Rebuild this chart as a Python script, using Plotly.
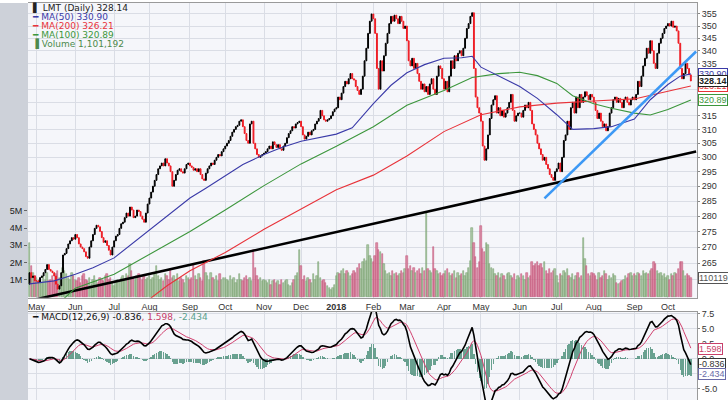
import numpy as np
import pandas as pd
import plotly.graph_objects as go

holidays = ["2017-05-29", "2017-07-04", "2017-09-04", "2017-11-23", "2017-12-25",
            "2018-01-01", "2018-01-15", "2018-02-19", "2018-03-30", "2018-05-28",
            "2018-07-04", "2018-09-03"]
days = pd.bdate_range("2017-04-25", "2018-10-23")
days = days[~days.isin(pd.to_datetime(holidays))]

# daily closes (dividend adjusted, as drawn)
close = [
    262, 260.5, 261, 259.5,  # Apr 17
    259.5, 259, 260.5, 261, 262, 263, 264.5, 263, 262.5, 262, 261, 258.5, 257, 258, 262,
    267.5, 268, 269.5, 271, 272, 273, 272.5,  # May
    274, 273, 271, 270, 269.5, 268.5, 267, 266.5, 270, 272, 274, 276, 277, 276.5, 275,
    273, 271.5, 272, 270.5, 269, 267.5, 270,  # Jun
    272, 273.5, 274, 276, 277.5, 278, 279.5, 281, 280, 283, 282, 279.5, 280, 282, 281.5,
    280, 279, 278, 281, 284,  # Jul
    286, 288, 290, 292, 294, 296, 297, 298, 297, 299.5, 298, 297, 295, 290, 292, 294,
    295.5, 296, 295, 294.5, 296, 297.5, 298,  # Aug
    297, 296.5, 295.5, 296, 295, 296, 294, 292.5, 292, 294.5, 296, 297, 298, 297.5, 299,
    300, 301, 300.5, 302, 303,  # Sep
    304, 305, 306, 307.5, 309, 310, 311, 311.5, 313, 313.5, 311, 308.5, 306, 305, 312,
    313, 305, 303, 301, 300, 300.5, 301,  # Oct
    301.5, 302, 303, 304, 303, 305.5, 304.5, 303.5, 304.5, 303, 302.5, 304, 305, 307,
    308.5, 309.5, 311, 310.5, 312, 312.5, 313,  # Nov
    311, 308, 306.5, 307.5, 309, 308, 309.5, 310, 312, 313, 314, 317, 315, 313.5, 313,
    313.5, 314, 315, 316.5, 317.5,  # Dec
    318, 322, 321, 323.5, 326, 328, 327, 329, 331, 329, 328.5, 326, 324.5, 323, 325, 330,
    336, 341, 347, 352, 355,  # Jan 18
    353, 347, 333, 325, 336, 332, 338, 343, 347, 351, 354, 352, 354.5, 353, 351, 354, 352,
    349, 350,  # Feb
    344, 336, 334, 337, 333, 335, 331, 328, 325, 327, 324, 326, 323, 327, 329, 325, 323,
    330, 334, 333, 329,  # Mar
    325, 328, 324, 330, 336, 333, 338, 336, 339, 340, 338, 341, 345, 349, 351, 354, 355.5,
    333, 322, 318, 316,  # Apr
    313, 304, 299, 303, 308, 314, 319, 321, 322.5, 316, 318, 315, 317, 314.5, 316, 318,
    320, 323, 317, 313, 315, 316,  # May
    316, 314.5, 317, 319, 318, 320, 317, 312, 310, 308, 305, 303, 301, 299, 300, 297.5,
    296, 294, 293, 292, 295,  # Jun
    296, 298, 295, 300, 306, 308, 313, 310, 318, 320, 316, 322, 318, 323, 320, 322, 324,
    322.5, 321, 323, 322,  # Jul
    320, 317, 314, 316, 313, 311, 312, 309.5, 311, 316, 318, 321, 322, 320, 321.5, 320,
    318, 321, 322, 320, 319, 321, 322,  # Aug
    321, 323, 328, 326, 330, 334, 337, 341, 339, 344, 340, 335, 333, 339, 343, 345, 347,
    349, 350,  # Sep
    351, 350, 352, 349.5, 350, 348, 343, 333, 329, 331, 335, 333, 330.5, 328.14,  # Oct
]

# daily volume, millions of shares
volume = [
    3.1, 1.8, 1.4, 1.2,
    1.1, 0.9, 1.0, 0.8, 1.2, 1.0, 1.4, 0.9, 1.0, 1.2, 0.9, 1.3, 1.5, 1.1, 1.0, 1.7, 1.5,
    1.3, 1.1, 1.0, 1.4, 1.2,
    1.0, 0.9, 1.1, 0.8, 1.2, 1.3, 1.0, 0.9, 1.1, 0.7, 1.0, 1.2, 0.9, 0.8, 1.1, 1.0, 0.9,
    1.2, 1.3, 1.0, 1.1, 0.8,
    0.6, 0.9, 1.0, 0.9, 1.1, 1.2, 1.0, 1.3, 1.2, 1.9, 1.5, 1.1, 1.0, 1.2, 1.3, 1.1, 1.0,
    1.2, 1.0, 1.1,
    1.2, 1.0, 1.1, 1.3, 1.8, 1.2, 1.0, 1.1, 0.9, 1.3, 1.2, 1.0, 1.6, 1.1, 1.2, 1.0, 1.3,
    0.9, 1.1, 1.0, 0.8, 1.2, 1.1,
    1.0, 1.1, 1.9, 1.2, 1.0, 1.3, 1.1, 0.9, 2.1, 1.4, 1.2, 1.0, 1.4, 1.1, 1.0, 1.2, 0.9,
    1.3, 1.0, 1.1,
    1.1, 1.0, 0.9, 1.2, 1.0, 1.1, 0.8, 1.0, 1.3, 1.0, 0.9, 1.1, 1.2, 1.0, 1.1, 0.9, 2.7,
    1.7, 1.2, 1.0, 1.1, 0.9,
    1.0, 0.9, 0.8, 1.0, 0.7, 0.9, 1.0, 0.8, 0.9, 0.7, 1.0, 0.8, 0.9, 1.0, 0.7, 0.6, 0.8,
    1.0, 1.2, 1.4, 2.7,
    1.8, 1.0, 1.2, 0.9, 1.1, 1.0, 0.8, 1.3, 1.0, 1.2, 2.0, 1.1, 0.9, 1.0, 0.8, 0.6, 0.5,
    0.4, 0.5, 0.7,
    1.2, 1.4, 1.3, 1.5, 1.6, 1.3, 1.5, 1.4, 1.2, 1.3, 1.5, 1.4, 1.7, 1.9, 1.6, 2.0, 2.2,
    2.1, 3.0, 2.4, 2.2,
    2.0, 2.4, 3.1, 2.7, 2.6, 2.5, 1.9, 1.5, 1.3, 1.4, 1.2, 1.5, 1.3, 1.4, 1.2, 1.3, 1.5,
    1.4, 1.6,
    2.4, 1.6, 1.8, 1.5, 1.7, 1.4, 1.5, 1.6, 1.3, 1.7, 1.5, 4.9, 1.6, 1.5, 1.4, 2.9, 1.6,
    1.5, 1.3, 1.4, 1.2,
    1.3, 1.5, 1.6, 1.4, 1.2, 1.3, 1.5, 1.1, 1.4, 1.2, 1.3, 1.5, 1.2, 1.4, 1.7, 2.1, 4.0,
    3.1, 2.3, 1.7, 2.0,
    4.1, 2.8, 2.6, 3.1, 3.0, 1.9, 1.7, 1.6, 1.3, 1.2, 1.4, 1.1, 1.3, 1.2, 1.0, 1.3, 1.4,
    1.2, 1.1, 1.3, 1.0, 1.2,
    1.1, 1.3, 1.2, 1.0, 1.4, 1.1, 1.2, 2.0, 1.8, 1.9, 2.0, 1.8, 1.9, 1.7, 2.0, 1.5, 1.3,
    1.6, 1.4, 1.5, 1.6,
    1.2, 0.8, 1.3, 1.2, 1.5, 1.4, 1.6, 1.2, 1.1, 1.3, 1.0, 1.2, 1.4, 1.1, 1.2, 3.4, 2.2,
    1.8, 1.3, 1.2, 1.4,
    1.3, 1.2, 1.0, 1.4, 1.1, 1.2, 1.5, 1.3, 1.0, 1.2, 1.1, 1.3, 1.2, 0.8, 0.75, 0.8, 0.9,
    1.0, 1.2, 1.1, 1.3, 1.4, 1.2,
    1.3, 1.2, 1.4, 1.3, 1.2, 1.5, 1.3, 1.4, 1.3, 1.5, 1.6, 2.0, 1.9, 1.5, 1.3, 1.4, 1.2,
    1.3, 1.1,
    1.2, 1.0, 1.3, 1.2, 1.4, 1.3, 1.6, 2.0, 2.0, 1.5, 1.2, 1.3, 1.2, 1.101192,
]

# moving averages as drawn, sampled along the lines
ma50_dates = ["2017-04-25", "2017-05-15", "2017-06-01", "2017-06-15", "2017-07-03", "2017-07-17",
              "2017-08-01", "2017-08-15", "2017-09-01", "2017-09-15", "2017-10-02", "2017-10-16",
              "2017-11-01", "2017-11-15", "2017-12-01", "2017-12-15", "2018-01-02", "2018-01-16",
              "2018-02-01", "2018-02-15", "2018-03-01", "2018-03-15", "2018-04-02", "2018-04-16",
              "2018-04-24", "2018-05-01", "2018-05-15", "2018-06-01", "2018-06-15", "2018-07-02",
              "2018-07-16", "2018-08-01", "2018-08-15", "2018-09-04", "2018-09-17", "2018-10-01",
              "2018-10-10", "2018-10-18"]
ma50 = [258.6, 259.5, 261.5, 263.5, 266.6, 270.5, 275.4, 280, 286, 289.3, 293.5, 297.5,
        301, 303.5, 305.7, 307, 308.3, 310.6, 319.5, 326.5, 331.3, 334.5, 337, 337.2,
        337.8, 333.5, 330, 326, 321.5, 315.4, 310, 310.3, 311, 313.8, 321, 326.8,
        330, 330.90]

ma100_dates = ["2017-05-15", "2017-06-01", "2017-07-03", "2017-08-01", "2017-09-01", "2017-10-02",
               "2017-11-01", "2017-12-01", "2018-01-02", "2018-02-01", "2018-03-01", "2018-04-02",
               "2018-04-24", "2018-05-15", "2018-06-01", "2018-06-15", "2018-07-02", "2018-07-16",
               "2018-08-01", "2018-08-15", "2018-09-04", "2018-09-17", "2018-10-01", "2018-10-18"]
ma100 = [251.5, 257.3, 261.5, 267.8, 275, 282, 290.2, 297.7, 303.9, 311, 318.9, 324.5,
         329.5, 331, 331.5, 330.2, 327.2, 322.5, 319.5, 317.8, 316, 315.3, 317.3, 320.89]

ma200_dates = ["2017-07-25", "2017-08-15", "2017-09-01", "2017-10-02", "2017-11-01", "2017-12-01",
               "2018-01-02", "2018-02-01", "2018-03-01", "2018-04-02", "2018-05-01", "2018-06-01",
               "2018-07-02", "2018-08-01", "2018-09-04", "2018-10-01", "2018-10-18"]
ma200 = [252.0, 258.0, 262.6, 268.3, 275.7, 282.2, 288.8, 293.8, 300.5, 309.2, 315.4, 318.3,
         319.7, 320.5, 321.3, 324.2, 326.21]

trend_black_dates = ["2017-04-25", "2018-10-23"]
trend_black = [253.5, 302.1]
trend_blue_dates = ["2018-06-21", "2018-10-23"]
trend_blue = [285.9, 339.7]

macd_last = [-0.836, 1.598, -2.434]  # MACD, signal, histogram as printed

BLUE, RED, GREEN = "#3a3aa8", "#e8333a", "#3c963c"
FONT = "DejaVu Sans"
AXFONT = "Liberation Sans"

n = len(close)
assert n == len(volume) == 376, (n, len(volume))
x = np.arange(n)


def xpos(ds):
    return [days.get_loc(pd.Timestamp(d)) for d in ds]


opn = [258.5] + close[:-1]
high = [max(o, c) for o, c in zip(opn, close)]
low = [min(o, c) for o, c in zip(opn, close)]
up = [c >= o for o, c in zip(opn, close)]

s = pd.Series(close)
macd = s.ewm(span=12, adjust=False).mean() - s.ewm(span=26, adjust=False).mean()
signal = macd.ewm(span=9, adjust=False).mean()
hist = macd - signal

# month ticks
first = pd.Series(range(len(days)), index=days).groupby([days.year, days.month]).first()
tickvals, ticktext = [], []
for (yr, mo), i in first.items():
    if i == 0:
        continue
    tickvals.append(i)
    ticktext.append("<b>%d</b>" % yr if mo == 1 else days[i].strftime("%b"))

fig = go.Figure()

fig.add_trace(go.Bar(
    x=x, y=volume, xaxis="x", yaxis="y",
    marker=dict(color=["rgba(150,185,140,0.75)" if u else "rgba(212,110,140,0.75)" for u in up],
                line=dict(color=["#7ea476" if u else "#c45c80" for u in up], width=0.6)),
    width=0.8, showlegend=False, hoverinfo="skip"))

fig.add_trace(go.Scatter(x=xpos(trend_black_dates), y=trend_black, yaxis="y3", mode="lines",
                         line=dict(color="black", width=2.6), showlegend=False))
fig.add_trace(go.Scatter(x=xpos(ma200_dates), y=ma200, yaxis="y3", mode="lines",
                         line=dict(color=RED, width=1.1), showlegend=False))
fig.add_trace(go.Scatter(x=xpos(ma100_dates), y=ma100, yaxis="y3", mode="lines",
                         line=dict(color=GREEN, width=1.1), showlegend=False))
fig.add_trace(go.Scatter(x=xpos(ma50_dates), y=ma50, yaxis="y3", mode="lines",
                         line=dict(color=BLUE, width=1.1), showlegend=False))

fig.add_trace(go.Candlestick(
    x=x, open=opn, high=high, low=low, close=close, yaxis="y3",
    increasing=dict(line=dict(color="black", width=1), fillcolor="black"),
    decreasing=dict(line=dict(color="#ee1c24", width=1), fillcolor="#ee1c24"),
    whiskerwidth=0, showlegend=False))

fig.add_trace(go.Scatter(x=xpos(trend_blue_dates), y=trend_blue, yaxis="y3", mode="lines",
                         line=dict(color="#3d99f5", width=2.6), showlegend=False))

# MACD panel
fig.add_trace(go.Bar(x=x, y=hist, xaxis="x2", yaxis="y2", width=0.8,
                     marker=dict(color="rgba(70,140,118,0.8)", line=dict(width=0)),
                     showlegend=False))
fig.add_trace(go.Scatter(x=x, y=signal, xaxis="x2", yaxis="y2", mode="lines",
                         line=dict(color="#d0406e", width=1), showlegend=False))
fig.add_trace(go.Scatter(x=x, y=macd, xaxis="x2", yaxis="y2", mode="lines",
                         line=dict(color="black", width=1.6), showlegend=False))

GRID = "#dadde5"
xr = [-0.85, 378.5]
price_top = 1 - 297 / 400
axfont = dict(size=9, color="#333", family=AXFONT)
fig.update_layout(
    width=728, height=400,
    margin=dict(l=28, r=31, t=0, b=0),
    paper_bgcolor="white", plot_bgcolor="#f5f6fa",
    font=dict(family=FONT, size=9, color="#333"),
    bargap=0,
    xaxis=dict(domain=[0, 1], anchor="y", range=xr, tickvals=tickvals, ticktext=ticktext,
               showgrid=True, gridcolor=GRID, zeroline=False, rangeslider=dict(visible=False),
               showline=True, linecolor="#9a9a9a", mirror=True, ticks="", tickfont=axfont),
    yaxis=dict(domain=[price_top, 1], anchor="x", range=[-0.06, 17.1], side="left",
               tickvals=[1, 2, 3, 4, 5], ticktext=["1M", "2M", "3M", "4M", "5M"],
               showgrid=False, zeroline=False, ticks="outside", ticklen=3, tickcolor="#666",
               tickfont=dict(size=9, color="#222", family=AXFONT)),
    yaxis3=dict(overlaying="y", anchor="x", side="right", type="log",
                range=[np.log10(254.4), np.log10(359.6)],
                tickvals=list(range(260, 360, 5)), showgrid=True, gridcolor=GRID, zeroline=False,
                showline=True, linecolor="#9a9a9a", ticks="outside", ticklen=2, tickcolor="#888",
                tickfont=axfont),
    xaxis2=dict(domain=[0, 1], anchor="y2", matches="x", range=xr, tickvals=tickvals,
                showticklabels=False, showgrid=True, gridcolor=GRID, zeroline=False,
                showline=True, linecolor="#9a9a9a", mirror=True, ticks=""),
    yaxis2=dict(domain=[0, 1 - 311 / 400], anchor="x2", side="right", range=[-6.83, 7.83],
                tickvals=[-5, -2.5, 0, 2.5, 5, 7.5],
                ticktext=["-5.0", "-2.5", "0.0", "2.5", "5.0", "7.5"],
                showgrid=True, gridcolor=GRID, zeroline=False, showline=True,
                linecolor="#9a9a9a", ticks="outside", ticklen=2, tickcolor="#888",
                tickfont=axfont),
)

# grey strip on the left
fig.add_shape(type="rect", xref="paper", yref="paper", x0=-28 / 669, x1=0, y0=0, y1=1,
              fillcolor="#cdd1d9", line=dict(width=0), layer="below")

# header legend
vol_txt = "{:,}".format(int(round(volume[-1] * 1e6)))
legend = [
    ("\u258c LMT (Daily) %.2f" % close[-1], "#222", 5),
    ("\u2501 MA(50) %.2f" % ma50[-1], BLUE, 14),
    ("\u2501 MA(200) %.2f" % ma200[-1], RED, 23),
    ("\u2501 MA(100) %.2f" % ma100[-1], GREEN, 32),
    ("\u2590 Volume " + vol_txt, "#4c8a4c", 41),
]
for txt, col, ypx in legend:
    fig.add_annotation(xref="paper", yref="paper", x=0, y=1 - ypx / 400, xanchor="left",
                       yanchor="middle", xshift=2, text=txt, showarrow=False,
                       font=dict(size=9, color=col, family=FONT))

fig.add_annotation(
    xref="paper", yref="paper", x=0, y=1 - 316 / 400, xanchor="left", yanchor="middle",
    xshift=2, showarrow=False, font=dict(size=9, family=FONT),
    text=("<span style='color:#111'>\u2501 MACD(12,26,9) %.3f</span>"
          "<span style='color:#c8406a'>, %.3f</span>"
          "<span style='color:#5aa08c'>, %.3f</span>") % tuple(macd_last))


def tag(val, yref, col, bold=False, txt=None):
    t = txt if txt is not None else "%.2f" % val
    fig.add_annotation(xref="paper", x=1, xanchor="left", xshift=1, yref=yref,
                       y=np.log10(val) if yref == "y3" else val, yanchor="middle",
                       text="<b>%s</b>" % t if bold else t, showarrow=False,
                       font=dict(size=9, color="#222" if bold else col, family=AXFONT),
                       bgcolor="white", bordercolor=col, borderwidth=1, borderpad=0)


tag(ma200[-1], "y3", RED)
tag(ma50[-1], "y3", BLUE)
tag(ma100[-1], "y3", GREEN)
tag(close[-1], "y3", "#222", bold=True)
tag(volume[-1], "y", "#555", txt=vol_txt.replace(",", ""))
tag(macd_last[1], "y2", "#c8406a", txt="%.3f" % macd_last[1])
tag(macd_last[0], "y2", "#333", txt="%.3f" % macd_last[0])
tag(macd_last[2], "y2", "#6a6aa8", txt="%.3f" % macd_last[2])

post_script = "document.body.style.margin='0';document.body.style.overflow='hidden';"
fig.write_html("out.html", post_script=post_script, config={"displayModeBar": False})
